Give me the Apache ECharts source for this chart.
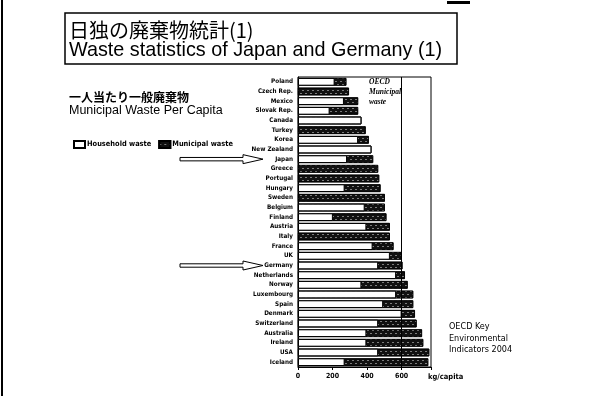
<!DOCTYPE html>
<html><head><meta charset="utf-8">
<script src="https://cdn.jsdelivr.net/npm/echarts@6/dist/echarts.min.js"></script>
<style>html,body{margin:0;padding:0;background:#fff}#c{width:594px;height:396px}</style>
</head><body><div id="c"></div>
<script>
const countries = ['Poland','Czech Rep.','Mexico','Slovak Rep.','Canada','Turkey','Korea','New Zealand','Japan','Greece','Portugal','Hungary','Sweden','Belgium','Finland','Austria','Italy','France','UK','Germany','Netherlands','Norway','Luxembourg','Spain','Denmark','Switzerland','Australia','Ireland','USA','Iceland'];
const householdWaste = [212,null,266,183,367,null,348,425,284,null,null,270,null,386,202,396,null,432,532,464,568,367,568,493,600,464,396,396,464,270];
const municipalWaste = [280,295,348,348,367,392,410,425,435,464,470,478,503,503,512,532,532,553,598,605,619,635,667,667,677,687,718,725,760,754];
const xTickLabels = [0,200,400,600];
const oecdLine = 600;
const seriesNames = ['Household waste','Municipal waste'];
const arrowTargets = ['Japan','Germany'];

const chart = echarts.init(document.getElementById('c'), null, {renderer:'canvas'});
const narrow = '"Liberation Sans Narrow","DejaVu Sans Condensed",sans-serif';
const option = {
  animation:false,
  backgroundColor:'#fff',
  grid:{left:298, right:163, top:77, bottom:29, show:true, borderColor:'#000', borderWidth:1, containLabel:false},
  legend:{
    data:seriesNames, left:68, top:135, itemWidth:11, itemHeight:7, itemGap:7, icon:'rect',
    textStyle:{fontSize:7.4, fontWeight:'bold', fontFamily:narrow, color:'#000', padding:[0,0,0,-3]}
  },
  xAxis:{
    type:'value', min:0, max:770, interval:200,
    axisLine:{show:true, lineStyle:{color:'#000', width:1}},
    axisTick:{show:true, length:3, lineStyle:{color:'#000'}},
    splitLine:{show:false},
    axisLabel:{fontSize:7, fontWeight:'bold', fontFamily:narrow, color:'#000', margin:6,
      formatter:v => xTickLabels.includes(v) ? String(v) : ''}
  },
  yAxis:{
    type:'category', data:countries, inverse:true,
    axisLine:{show:true, lineStyle:{color:'#000', width:1.2}},
    axisTick:{show:false},
    axisLabel:{fontSize:6.3, fontWeight:'bold', fontFamily:narrow, color:'#000', margin:5, interval:0}
  },
  series:[
    {
      name:seriesNames[1], type:'bar', data:municipalWaste, barCategoryGap:'20%', barGap:'-100%',
      itemStyle:{color:'#111', borderColor:'#000', borderWidth:0.8,
        decal:{symbol:'rect', color:'rgba(255,255,255,0.45)', dashArrayX:[[2,3],[0,2,2,1]], dashArrayY:[1,2], symbolSize:1, rotation:0}},
      markLine:{silent:true, symbol:'none', label:{show:false},
        lineStyle:{color:'#000', width:1, type:'solid'}, data:[{xAxis:oecdLine}]}
    },
    {
      name:seriesNames[0], type:'bar', data:householdWaste, barCategoryGap:'20%', barGap:'-100%',
      itemStyle:{color:'#fff', borderColor:'#000', borderWidth:1}
    }
  ]
};
chart.setOption(option);

function arrowShape(y){
  const x0=180, x1=243, x2=263;
  return [[x0,y-1.7],[x1,y-1.7],[x1,y-4.5],[x2,y],[x1,y+4.5],[x1,y+1.7],[x0,y+1.7]];
}
const arrows = arrowTargets.map(name => {
  const y = chart.convertToPixel({yAxisIndex:0}, name);
  return {type:'polygon', shape:{points:arrowShape(y)}, style:{fill:'#fff', stroke:'#000', lineWidth:1}};
});

chart.setOption({graphic:[
  {type:'line', shape:{x1:2, y1:0, x2:2, y2:396}, style:{stroke:'#000', lineWidth:2}},
  {type:'line', shape:{x1:447, y1:2.5, x2:470, y2:2.5}, style:{stroke:'#000', lineWidth:3}},
  {type:'rect', shape:{x:65, y:13, width:392, height:51}, style:{fill:'none', stroke:'#000', lineWidth:1.5}},
  {type:'text', x:69, y:30, style:{text:'日独の廃棄物統計(1)', font:'20px "Noto Sans CJK JP"', fill:'#000', verticalAlign:'middle'}},
  {type:'text', x:69, y:51, style:{text:'Waste statistics of Japan and Germany (1)', font:'19.8px "Liberation Sans"', fill:'#000', verticalAlign:'middle'}},
  {type:'text', x:69, y:97, style:{text:'一人当たり一般廃棄物', font:'bold 12px "Noto Sans CJK JP"', fill:'#000', verticalAlign:'middle'}},
  {type:'text', x:69, y:111, style:{text:'Municipal Waste Per Capita', font:'12.5px "Liberation Sans"', fill:'#000', verticalAlign:'middle'}},
  {type:'text', x:369, y:92, style:{text:'OECD\nMunicipal\nwaste', font:'italic bold 7.5px "Liberation Serif"', lineHeight:10, fill:'#000', verticalAlign:'middle'}},
  {type:'text', x:428, y:377, style:{text:'kg/capita', font:'bold 7.5px '+narrow, fill:'#000', verticalAlign:'middle'}},
  {type:'text', x:449, y:321, style:{text:'OECD Key\nEnvironmental\nIndicators 2004', font:'9px '+narrow, lineHeight:11.5, fill:'#000', verticalAlign:'top'}},
  ...arrows
]});
</script></body></html>
